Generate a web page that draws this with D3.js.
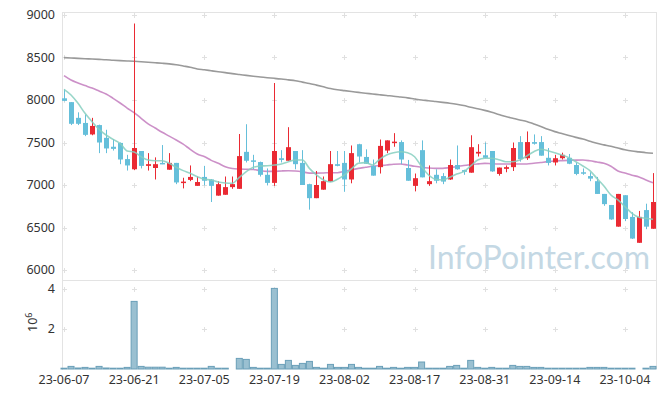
<!DOCTYPE html>
<html><head><meta charset="utf-8">
<script src="https://cdn.jsdelivr.net/npm/d3@7"></script>
<style>html,body{margin:0;padding:0;background:#fff;}svg{display:block;}</style>
</head><body>
<svg id="chart" width="665" height="398"></svg>
<script>
const dates = ["23-06-07","23-06-08","23-06-09","23-06-12","23-06-13","23-06-14","23-06-15","23-06-16","23-06-19","23-06-20",
"23-06-21","23-06-22","23-06-23","23-06-26","23-06-27","23-06-28","23-06-29","23-06-30","23-07-03","23-07-04",
"23-07-05","23-07-06","23-07-07","23-07-10","23-07-11","23-07-12","23-07-13","23-07-14","23-07-17","23-07-18",
"23-07-19","23-07-20","23-07-21","23-07-24","23-07-25","23-07-26","23-07-27","23-07-28","23-07-31","23-08-01",
"23-08-02","23-08-03","23-08-04","23-08-07","23-08-08","23-08-09","23-08-10","23-08-11","23-08-14","23-08-16",
"23-08-17","23-08-18","23-08-21","23-08-22","23-08-23","23-08-24","23-08-25","23-08-28","23-08-29","23-08-30",
"23-08-31","23-09-01","23-09-04","23-09-05","23-09-06","23-09-07","23-09-08","23-09-11","23-09-12","23-09-13",
"23-09-14","23-09-15","23-09-18","23-09-19","23-09-20","23-09-21","23-09-22","23-09-25","23-09-26","23-09-27",
"23-10-04","23-10-05","23-10-06","23-10-10","23-10-11"];

const open = [8020,7975,7790,7730,7595,7705,7555,7450,7495,7305,
7185,7400,7225,7200,7260,7180,7260,7030,7060,6990,
7095,7065,6875,6885,6975,6955,7390,7290,7270,7120,
7025,7315,7285,7400,7260,7010,6845,6945,7040,7245,
7260,7065,7480,7330,7225,7210,7405,7500,7505,7200,
6990,7410,7010,7120,7105,7065,7235,7175,7145,7370,
7350,7400,7130,7190,7210,7505,7315,7505,7505,7320,
7265,7315,7320,7235,7150,7105,7045,6895,6765,6510,
6880,6625,6320,6705,6485];
const high = [8125,7975,7855,7830,7790,7710,7650,7540,7500,7355,
8900,7400,7375,7325,7470,7375,7260,7085,7230,7100,
7225,7070,7045,7100,7100,7600,7715,7355,7275,7195,
8200,7410,7680,7400,7410,7015,7165,7100,7400,7400,
7400,7465,7485,7420,7300,7535,7525,7610,7525,7295,
7135,7525,7230,7185,7140,7300,7465,7180,7585,7480,
7500,7400,7205,7230,7500,7575,7630,7595,7575,7435,
7355,7380,7365,7265,7195,7150,7095,6895,6765,6895,
6880,6680,6695,6780,7140];
const low = [7985,7705,7705,7575,7585,7375,7375,7405,7245,7170,
7175,7195,7170,7065,7245,7180,7010,6960,7045,6990,
6995,6800,6875,6885,6955,6955,7265,7185,7100,6995,
6990,7265,7285,7185,7000,6710,6845,6945,7040,7220,
6920,7020,7265,7250,7110,7135,7375,7450,7245,7050,
6925,7090,6990,7020,7010,7060,7180,7120,7145,7335,
7315,7155,7110,7150,7165,7275,7295,7475,7345,7230,
7230,7300,7245,7115,7120,7045,6895,6755,6590,6510,
6575,6365,6320,6480,6485];
const close = [7990,7720,7720,7590,7695,7500,7430,7425,7300,7230,
7435,7225,7245,7245,7250,7260,7030,7040,7095,7035,
7050,6990,7010,6975,7010,7340,7285,7275,7120,7025,
7400,7295,7445,7245,7000,6845,7000,7045,7245,7225,
7065,7375,7335,7250,7110,7460,7525,7510,7300,7050,
7080,7090,7045,7050,7040,7235,7185,7155,7445,7390,
7320,7160,7205,7210,7435,7305,7505,7485,7345,7260,
7315,7355,7250,7130,7140,7075,6895,6775,6595,6895,
6600,6370,6625,6510,6800];
// volume, in millions of shares
const volume = [0.04,0.13,0.05,0.08,0.04,0.13,0.05,0.04,0.04,0.08,
3.38,0.13,0.09,0.09,0.09,0.04,0.08,0.04,0.04,0.04,
0.04,0.13,0.04,0.04,0,0.53,0.48,0.08,0.04,0.04,
4.03,0.23,0.43,0.18,0.28,0.38,0.08,0.04,0.23,0.08,
0.08,0.23,0.08,0.04,0.04,0.13,0.04,0.08,0.04,0.08,
0.08,0.35,0.04,0.04,0.04,0.13,0.18,0.04,0.43,0.08,
0.04,0.08,0.04,0.04,0.18,0.13,0.13,0.08,0.08,0.04,
0.04,0.04,0.04,0.04,0.04,0.08,0.08,0.08,0.04,0.04,
0.04,0.04,0,0.04,0.13];
const ma5 = [8126,8059,7961,7843,7745,7655,7588,7537,7490,7400,
7388,7333,7294,7286,7286,7255,7208,7169,7137,7098,
7067,7059,7035,7024,7020,7090,7157,7208,7224,7227,
7235,7247,7274,7294,7294,7196,7118,7059,7035,7067,
7118,7190,7255,7263,7235,7302,7353,7380,7392,7380,
7333,7216,7118,7067,7059,7090,7129,7157,7224,7294,
7314,7314,7298,7274,7274,7294,7341,7392,7420,7404,
7380,7353,7322,7274,7224,7169,7078,6988,6882,6824,
6745,6667,6620,6608,6596];
const ma20 = [8286,8235,8200,8170,8140,8105,8070,8020,7965,7905,
7851,7785,7720,7670,7620,7575,7530,7480,7420,7365,
7335,7290,7255,7215,7195,7188,7185,7183,7168,7160,
7160,7165,7168,7165,7155,7140,7140,7142,7145,7145,
7160,7180,7196,7208,7220,7228,7235,7245,7247,7235,
7220,7208,7200,7196,7196,7205,7215,7230,7240,7248,
7255,7250,7247,7247,7247,7247,7247,7255,7265,7275,
7283,7287,7290,7293,7294,7285,7270,7255,7220,7165,
7140,7115,7095,7060,7027];
const ma120 = [8498,8494,8490,8486,8482,8478,8474,8468,8463,8459,
8455,8450,8444,8438,8432,8425,8415,8400,8385,8365,
8355,8344,8333,8322,8310,8300,8290,8280,8270,8262,
8255,8247,8237,8227,8210,8195,8175,8155,8135,8120,
8110,8100,8090,8080,8071,8062,8053,8045,8035,8025,
8012,8000,7992,7982,7972,7962,7950,7935,7915,7898,
7878,7855,7830,7805,7785,7765,7748,7718,7688,7655,
7628,7605,7582,7560,7540,7515,7490,7472,7455,7435,
7415,7400,7390,7380,7373];
const priceTicks = [6000,6500,7000,7500,8000,8500,9000];
const volTicks = [2,4];
const dateTicks = ["23-06-07","23-06-21","23-07-05","23-07-19","23-08-02","23-08-17","23-08-31","23-09-14","23-10-04"];

const svg = d3.select("#chart");
const L = 62, R = 656, T = 12, PB = 280, VB = 369;
const font = "'Noto Sans', 'Open Sans', sans-serif";

const x = d3.scaleBand().domain(dates).range([60.5, 656.5]).padding(0);
const bw = x.bandwidth();
const cx = d => x(d) + bw / 2;
const y = d3.scaleLinear().domain([6000, 9000]).range([270, 15]);
const yv = d3.scaleLinear().domain([0, 4]).range([VB, 289]);

const rows = dates.map((d, i) => ({d, o: open[i], h: high[i], l: low[i], c: close[i], v: volume[i]}));

// frame
const gridC = "#e3e3e3";
svg.append("line").attr("x1", L).attr("x2", R).attr("y1", T + 0.5).attr("y2", T + 0.5).attr("stroke", gridC);
svg.append("line").attr("x1", L).attr("x2", R).attr("y1", PB + 0.5).attr("y2", PB + 0.5).attr("stroke", gridC);
svg.append("line").attr("x1", R + 0.5).attr("x2", R + 0.5).attr("y1", T).attr("y2", VB).attr("stroke", gridC);
svg.append("line").attr("x1", L + 0.5).attr("x2", L + 0.5).attr("y1", T).attr("y2", VB + 1).attr("stroke", gridC);

// plus markers at grid intersections
const plusG = svg.append("g").attr("stroke", "#e0e0e0").attr("stroke-width", 1);
const gy = priceTicks.map(v => y(v)).concat(volTicks.map(v => yv(v)));
dateTicks.forEach(dt => {
  const px = Math.round(cx(dt)) + 0.5;
  gy.forEach(py => {
    py = Math.round(py) + 0.5;
    plusG.append("line").attr("x1", px - 2.5).attr("x2", px + 2.5).attr("y1", py).attr("y2", py);
    plusG.append("line").attr("x1", px).attr("x2", px).attr("y1", py - 2.5).attr("y2", py + 2.5);
  });
});

// watermark
svg.append("text").attr("x", 539).attr("y", 269).attr("text-anchor", "middle")
  .attr("font-family", "Lato, 'Open Sans', sans-serif")
  .attr("font-size", 32).attr("fill", "#c4d8e4")
  .text("InfoPointer.com");

// y axis labels
svg.append("g").selectAll("text").data(priceTicks).join("text")
  .attr("x", 55).attr("y", d => y(d)).attr("dy", "0.35em").attr("text-anchor", "end")
  .attr("font-family", font).attr("font-size", 12.5).attr("fill", "#333").text(d => d);
svg.append("g").selectAll("text").data(volTicks).join("text")
  .attr("x", 55).attr("y", d => yv(d)).attr("dy", "0.35em").attr("text-anchor", "end")
  .attr("font-family", font).attr("font-size", 12.5).attr("fill", "#333").text(d => d);
const vl = svg.append("text").attr("transform", "translate(37,332) rotate(-90)")
  .attr("font-family", font).attr("font-size", 12.5).attr("fill", "#333");
vl.append("tspan").text("10");
vl.append("tspan").attr("dy", -5).attr("font-size", 9).text("6");

// x axis labels
svg.append("g").selectAll("text").data(dateTicks).join("text")
  .attr("x", d => cx(d)).attr("y", 384).attr("text-anchor", "middle")
  .attr("font-family", font).attr("font-size", 12.5).attr("fill", "#333").text(d => d);

// volume bars
svg.append("g").selectAll("rect").data(rows.filter(r => r.v > 0)).join("rect")
  .attr("x", r => x(r.d) + 0.5).attr("width", bw - 1)
  .attr("y", r => yv(r.v)).attr("height", r => Math.max(0.5, VB - yv(r.v)))
  .attr("fill", "#9ac0d1").attr("stroke", "#6a9fb8").attr("stroke-width", 1);

// moving averages
const line = arr => d3.line().x((v, i) => cx(dates[i])).y(v => y(v)).curve(d3.curveMonotoneX)(arr);
svg.append("path").attr("d", line(ma120)).attr("fill", "none").attr("stroke", "#9a9a9a").attr("stroke-width", 1.6);
svg.append("path").attr("d", line(ma20)).attr("fill", "none").attr("stroke", "#c784c2").attr("stroke-width", 1.6).attr("opacity", 0.9);

// candles
const up = "#ea2a33", down = "#65bfda";
const cg = svg.append("g");
cg.selectAll("line").data(rows).join("line")
  .attr("x1", r => Math.round(cx(r.d)) + 0.5).attr("x2", r => Math.round(cx(r.d)) + 0.5)
  .attr("y1", r => y(r.h)).attr("y2", r => y(r.l))
  .attr("stroke", r => r.c >= r.o ? up : down).attr("stroke-width", 1);
cg.selectAll("rect").data(rows).join("rect")
  .attr("x", r => Math.round(cx(r.d)) - 2).attr("width", 5)
  .attr("y", r => y(Math.max(r.o, r.c))).attr("height", r => Math.max(1.5, Math.abs(y(r.o) - y(r.c))))
  .attr("fill", r => r.c >= r.o ? up : down);

svg.append("path").attr("d", line(ma5)).attr("fill", "none").attr("stroke", "#86cfc0").attr("stroke-width", 1.6).attr("opacity", 0.85);
</script>
</body></html>
